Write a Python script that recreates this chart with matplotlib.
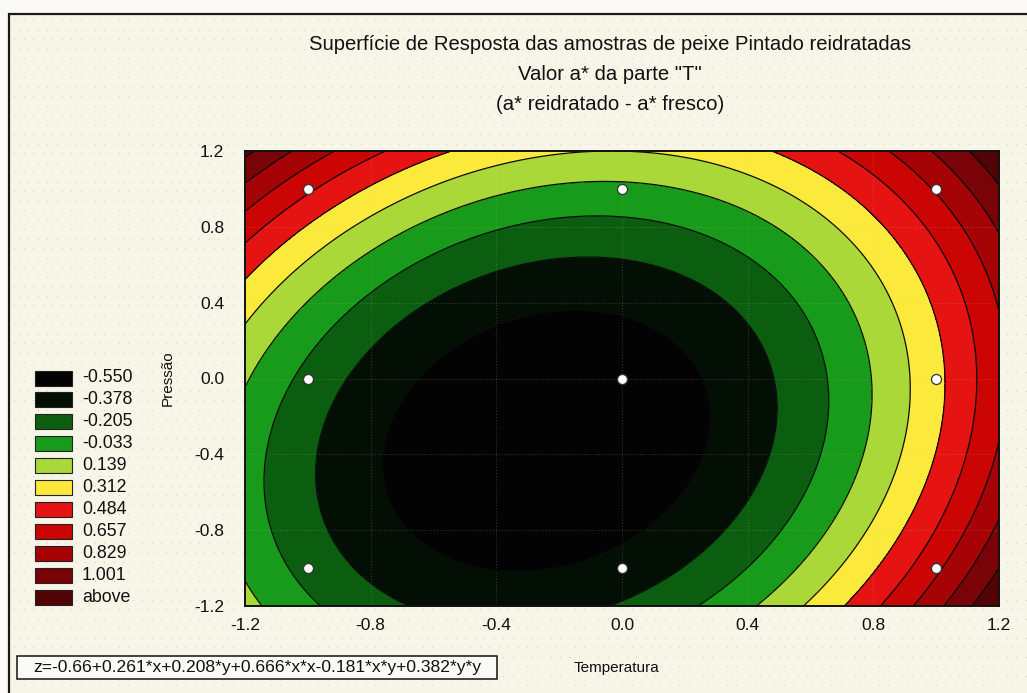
import numpy as np
import matplotlib
matplotlib.use("Agg")
import matplotlib.pyplot as plt
from matplotlib.patches import Rectangle

# Fitted response surface: z = b0 + b1*x + b2*y + b11*x*x + b12*x*y + b22*y*y
coef_names = ["b0", "b1", "b2", "b11", "b12", "b22"]
coef_values = [-0.66, 0.261, 0.208, 0.666, -0.181, 0.382]

# Design points (coded Temperatura, Pressão)
design_x = [-1, 0, 1, -1, 0, 1, -1, 0, 1]
design_y = [1, 1, 1, 0, 0, 0, -1, -1, -1]

# Contour class limits and legend
level_values = [-0.550, -0.378, -0.205, -0.033, 0.139, 0.312, 0.484, 0.657, 0.829, 1.001]
legend_labels = ["-0.550", "-0.378", "-0.205", "-0.033", "0.139", "0.312",
                 "0.484", "0.657", "0.829", "1.001", "above"]
band_colors = ["#020302", "#030f04", "#0b5e0f", "#189a1a", "#a9d838", "#fbe93c",
               "#e51412", "#cb0404", "#a50306", "#7a0308", "#520306"]

tick_values = [-1.2, -0.8, -0.4, 0.0, 0.4, 0.8, 1.2]
tick_labels = ["-1.2", "-0.8", "-0.4", "0.0", "0.4", "0.8", "1.2"]

title_lines = ["Superfície de Resposta das amostras de peixe Pintado reidratadas",
               'Valor a* da parte "T"',
               "(a* reidratado - a* fresco)"]
equation_text = "z=-0.66+0.261*x+0.208*y+0.666*x*x-0.181*x*y+0.382*y*y"

plt.rcParams["font.family"] = ["Liberation Sans", "DejaVu Sans"]

W, H = 1027, 693
fig = plt.figure(figsize=(W / 100, H / 100), dpi=100)
fig.patch.set_facecolor("#fbfaf6")

# Pixel-coordinate canvas for the page decorations
bg = fig.add_axes([0, 0, 1, 1])
bg.set_xlim(0, W)
bg.set_ylim(H, 0)
bg.axis("off")
bg.add_patch(Rectangle((9, 14), W + 20, H, facecolor="#f7f4e8",
                       edgecolor="#1a1a1a", lw=1.6))
# halftone dot texture of the page
gx, gy = np.meshgrid(np.arange(14, W, 9.5), np.arange(20, H, 9.5))
gx = gx + (np.arange(gy.shape[0])[:, None] % 2) * 4.7
bg.scatter(gx.ravel(), gy.ravel(), s=0.6, c="#cdc9bb", lw=0, zorder=1)

# Title
for i, line in enumerate(title_lines):
    bg.text(610, 44 + i * 30.5, line, ha="center", va="center",
            fontsize=14.6, color="#111111", zorder=3)

# Legend swatches
for i, (lab, col) in enumerate(zip(legend_labels, band_colors)):
    yc = 378 + i * 21.9
    bg.add_patch(Rectangle((35, yc - 7.5), 37, 15, facecolor=col,
                           edgecolor="#222222", lw=0.8, zorder=3))
    bg.text(82, yc, lab, ha="left", va="center", fontsize=12.8,
            color="#111111", zorder=3)

# Equation box
bg.add_patch(Rectangle((17, 656), 480, 23, facecolor="#fbfaf6",
                       edgecolor="#111111", lw=1.1, zorder=3))
bg.text(257, 667.5, equation_text, ha="center", va="center", fontsize=12.6,
        color="#111111", zorder=4)

# Contour plot
ax = fig.add_axes([245 / W, 1 - 606 / H, 754 / W, 455 / H])
ax.set_zorder(2)
x = np.linspace(-1.2, 1.2, 400)
y = np.linspace(-1.2, 1.2, 400)
X, Y = np.meshgrid(x, y)
b0, b1, b2, b11, b12, b22 = coef_values
Z = b0 + b1 * X + b2 * Y + b11 * X * X + b12 * X * Y + b22 * Y * Y

fill_levels = [-10.0] + level_values + [10.0]
ax.contourf(X, Y, Z, levels=fill_levels, colors=band_colors)
ax.contour(X, Y, Z, levels=level_values, colors="#0a0a0a", linewidths=0.9,
           linestyles="solid", negative_linestyles="solid")

ax.scatter(design_x, design_y, s=52, facecolor="white", edgecolor="#333333",
           lw=0.9, zorder=5)

ax.set_xlim(-1.2, 1.2)
ax.set_ylim(-1.2, 1.2)
ax.set_xticks(tick_values)
ax.set_xticklabels(tick_labels)
ax.set_yticks(tick_values)
ax.set_yticklabels(tick_labels)
ax.tick_params(length=0, labelsize=12.5, colors="#111111")
ax.tick_params(axis="x", pad=9)
ax.tick_params(axis="y", pad=15)
ax.grid(True, color="#cfd8a0", alpha=0.22, ls=":", lw=0.8)
for s in ax.spines.values():
    s.set_color("#111111")
    s.set_linewidth(1.4)

bg.text(617, 668, "Temperatura", ha="center", va="center", fontsize=11,
        color="#111111", zorder=3)
bg.text(168, 378, "Pressão", ha="center", va="center", fontsize=11,
        rotation=90, color="#111111", zorder=3)

fig.savefig("out.png", dpi=100, facecolor=fig.get_facecolor())
